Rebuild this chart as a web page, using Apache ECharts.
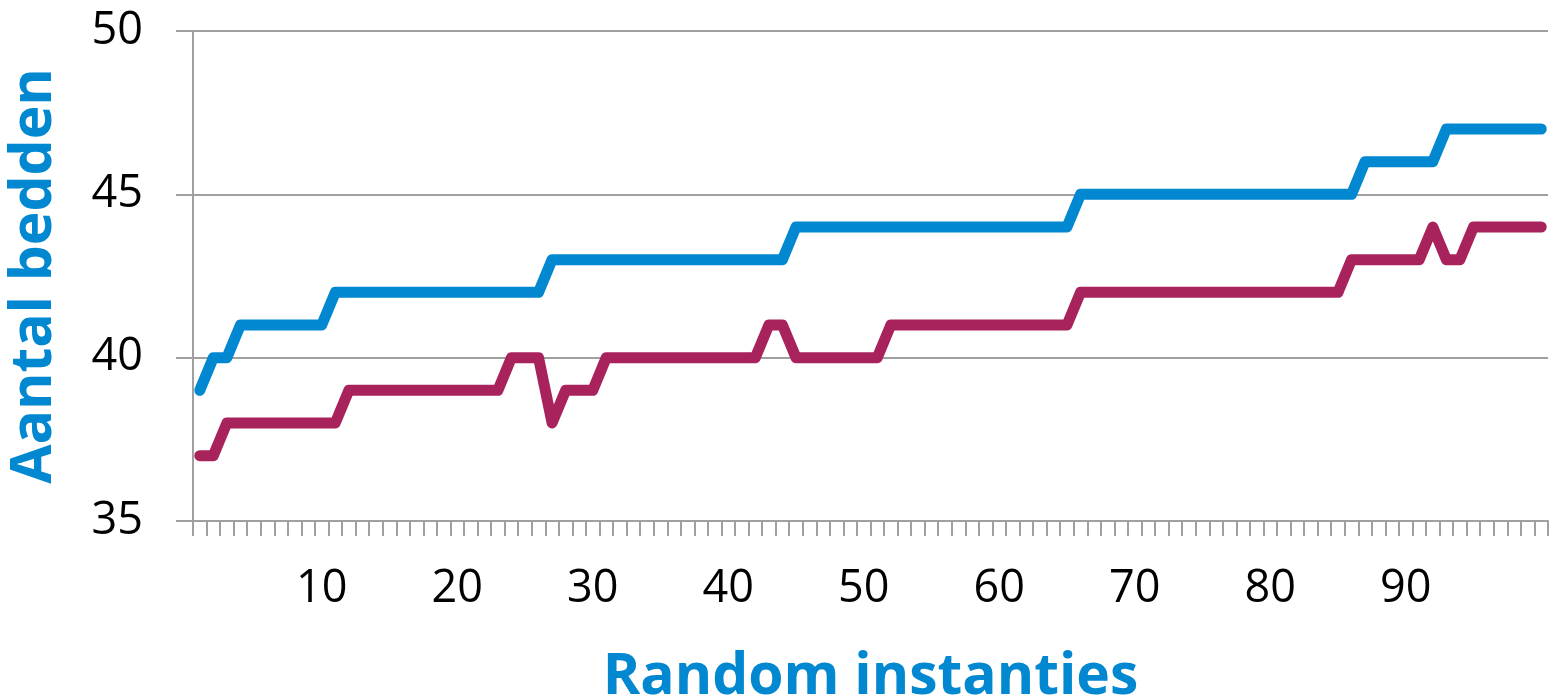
<!DOCTYPE html>
<html>
<head>
<meta charset="utf-8">
<script src="https://cdn.jsdelivr.net/npm/echarts@6/dist/echarts.min.js"></script>
<style>
html,body{margin:0;padding:0;background:#fff;}
#c{width:1551px;height:698px;}
</style>
</head>
<body>
<div id="c"></div>
<script>
var categories = [];
for (var i = 1; i <= 100; i++) categories.push(String(i));

var blueValues = [
  39,40,40,41,41,41,41,41,41,41,
  42,42,42,42,42,42,42,42,42,42,
  42,42,42,42,42,42,43,43,43,43,
  43,43,43,43,43,43,43,43,43,43,
  43,43,43,43,44,44,44,44,44,44,
  44,44,44,44,44,44,44,44,44,44,
  44,44,44,44,44,45,45,45,45,45,
  45,45,45,45,45,45,45,45,45,45,
  45,45,45,45,45,45,46,46,46,46,
  46,46,47,47,47,47,47,47,47,47
];
var redValues = [
  37,37,38,38,38,38,38,38,38,38,
  38,39,39,39,39,39,39,39,39,39,
  39,39,39,40,40,40,38,39,39,39,
  40,40,40,40,40,40,40,40,40,40,
  40,40,41,41,40,40,40,40,40,40,
  40,41,41,41,41,41,41,41,41,41,
  41,41,41,41,41,42,42,42,42,42,
  42,42,42,42,42,42,42,42,42,42,
  42,42,42,42,42,43,43,43,43,43,
  43,44,43,43,44,44,44,44,44,44
];
var xTitle = 'Random instanties';
var yTitle = 'Aantal bedden';

var chart = echarts.init(document.getElementById('c'));
var axisGray = '#a0a0a0';
chart.setOption({
  animation: false,
  grid: {left: 193, right: 3, top: 31, bottom: 177, containLabel: false, outerBoundsMode: 'none'},
  xAxis: {
    type: 'category',
    data: categories,
    boundaryGap: true,
    name: xTitle,
    nameLocation: 'middle',
    nameGap: 128,
    nameTextStyle: {fontFamily: 'Open Sans', fontWeight: 'bold', fontSize: 57, color: '#0288D1'},
    axisLine: {lineStyle: {color: axisGray, width: 2}},
    axisTick: {show: true, interval: 0, length: 15, lineStyle: {color: axisGray, width: 2}},
    axisLabel: {
      interval: function (idx) { return (idx + 1) % 10 === 0 && idx < 99; },
      margin: 46,
      fontFamily: 'Open Sans',
      fontSize: 45,
      color: '#000'
    },
    splitLine: {show: false}
  },
  yAxis: {
    type: 'value',
    min: 35, max: 50, interval: 5,
    name: yTitle,
    nameLocation: 'middle',
    nameGap: 130,
    nameRotate: 90,
    nameTextStyle: {fontFamily: 'Open Sans', fontWeight: 'bold', fontSize: 57, color: '#0288D1'},
    axisLine: {show: true, lineStyle: {color: axisGray, width: 2}},
    axisTick: {show: true, length: 17, lineStyle: {color: axisGray, width: 2}},
    axisLabel: {margin: 50, fontFamily: 'Open Sans', fontSize: 45, color: '#000'},
    splitLine: {show: true, lineStyle: {color: axisGray, width: 2}}
  },
  series: [
    {
      type: 'line', data: blueValues, symbol: 'none',
      lineStyle: {color: '#0288D1', width: 11, cap: 'round', join: 'round'}
    },
    {
      type: 'line', data: redValues, symbol: 'none',
      lineStyle: {color: '#A8235B', width: 11, cap: 'round', join: 'round'}
    }
  ]
});
</script>
</body>
</html>
